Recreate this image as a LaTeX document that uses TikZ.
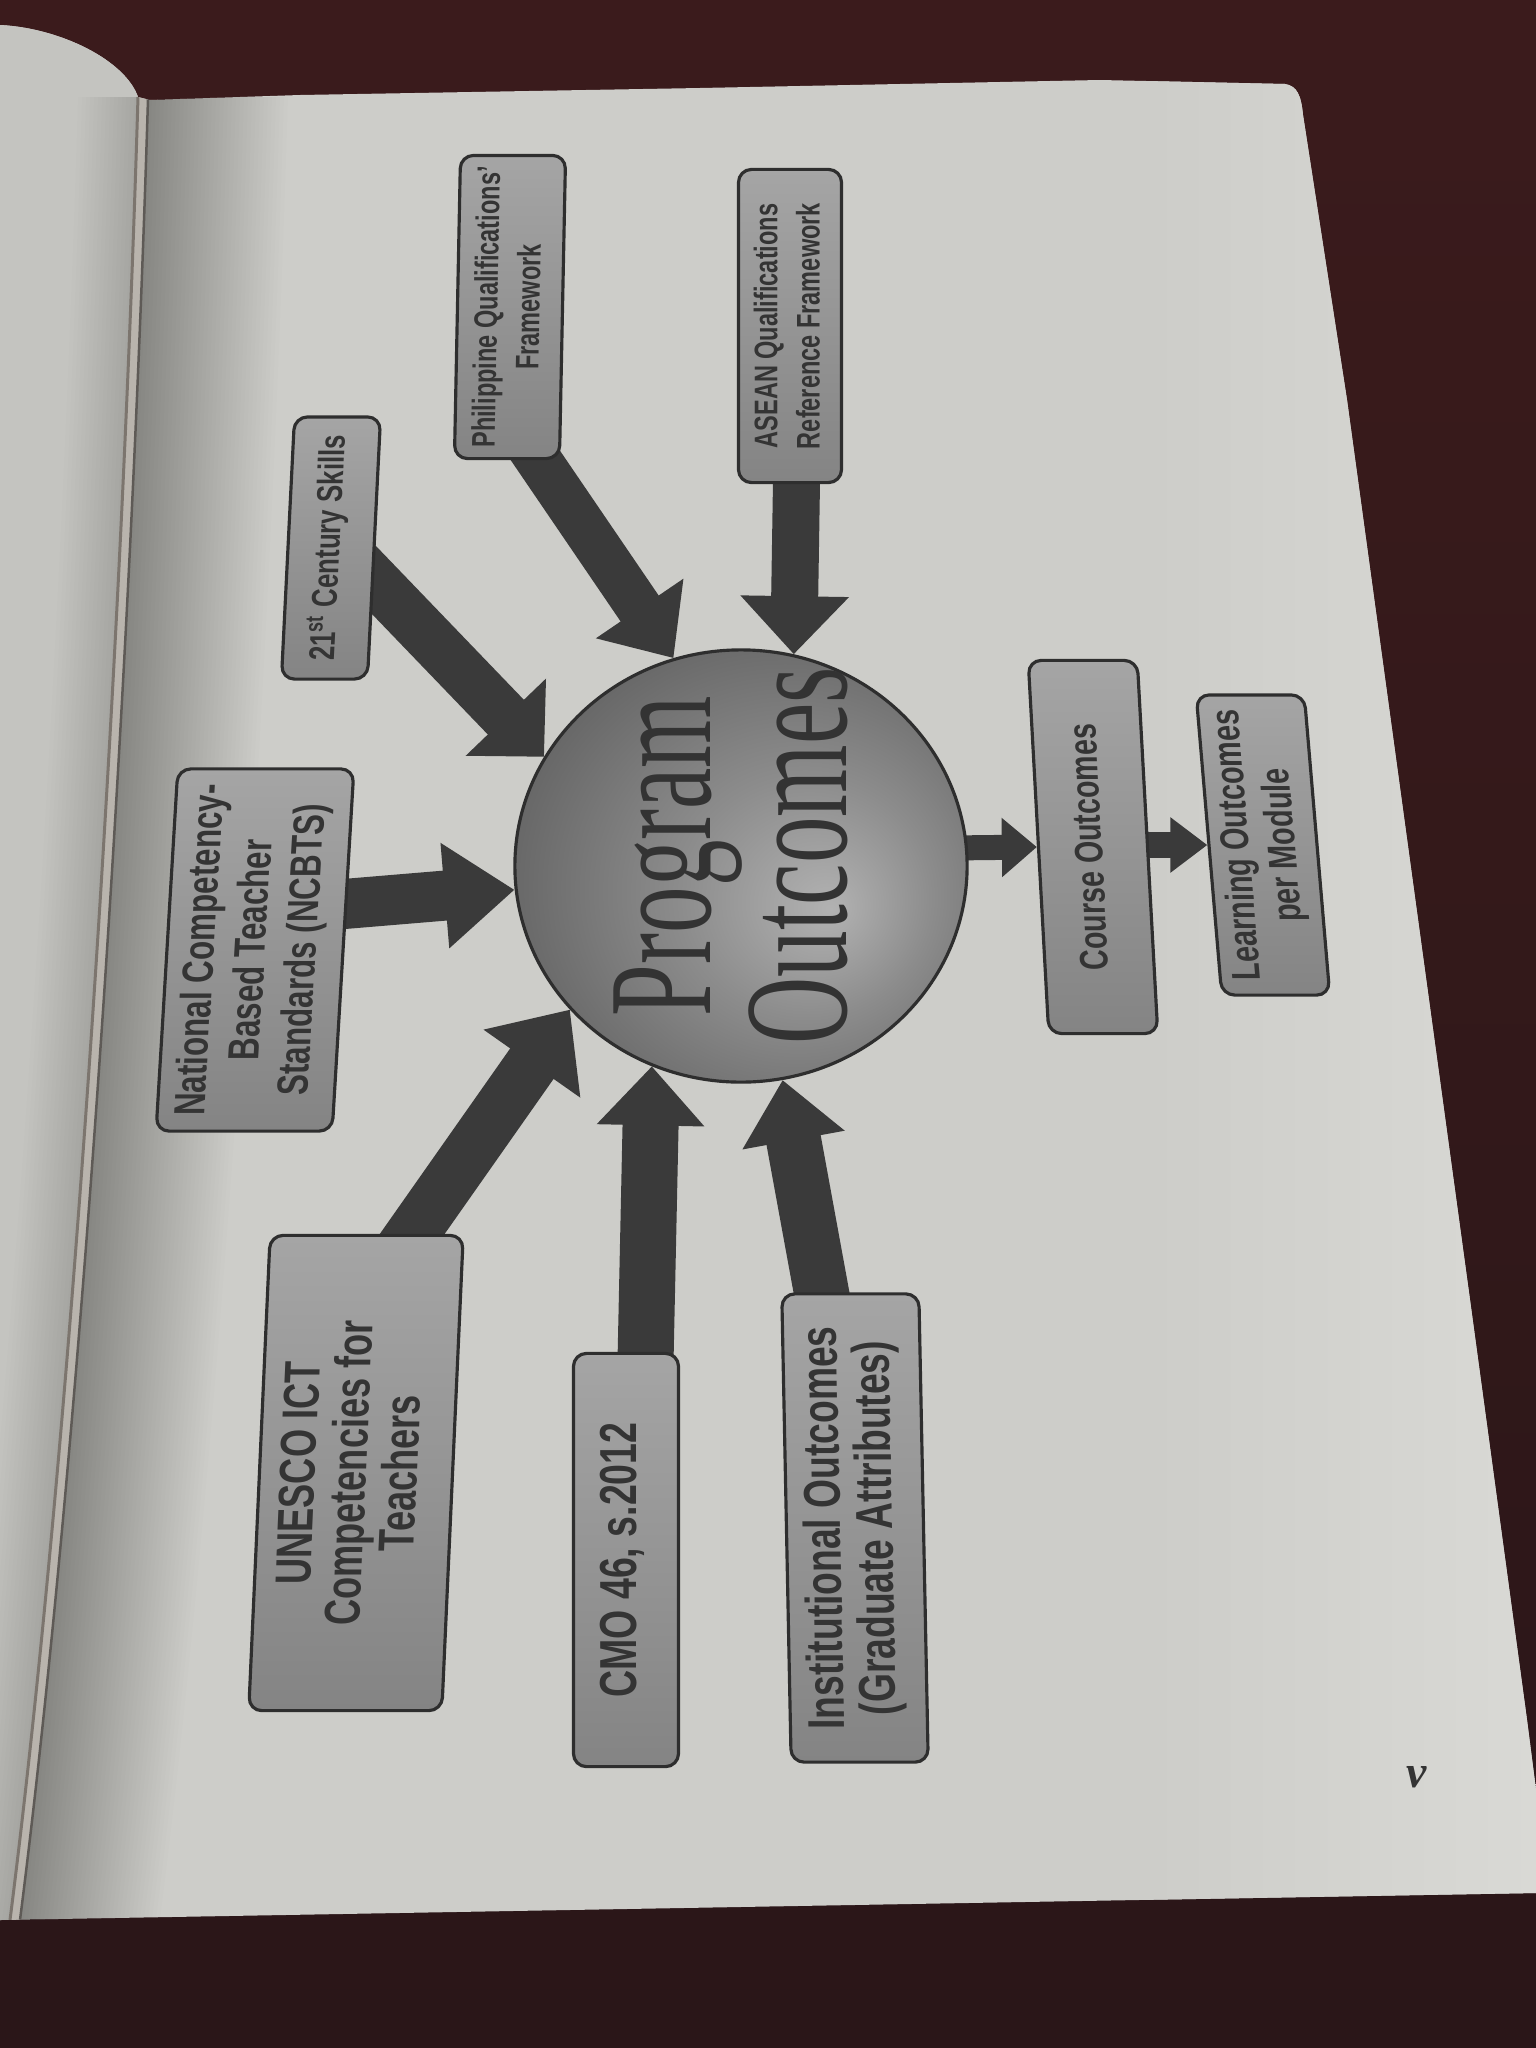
\documentclass[tikz,border=0pt]{standalone}
\usepackage{fontspec}
\usepackage{graphicx}
\usetikzlibrary{arrows.meta,shapes.geometric,calc}
\newfontfamily\boxfont[FakeStretch=0.72]{Liberation Sans}
\newfontfamily\pofont[FakeStretch=0.63]{Liberation Serif}
\newfontfamily\pnfont{Liberation Serif}
\definecolor{bgtop}{HTML}{3B1B1C}
\definecolor{bgbot}{HTML}{2A1618}
\definecolor{paper}{HTML}{CDCDC9}
\definecolor{paperlight}{HTML}{D9D9D5}
\definecolor{leftpage}{HTML}{C4C4C0}
\definecolor{spinec}{HTML}{7C756E}
\definecolor{gutter}{HTML}{5E5A56}
\definecolor{gutterstrip}{HTML}{B9B4AD}
\definecolor{boxlight}{HTML}{A5A5A5}
\definecolor{boxdark}{HTML}{848484}
\definecolor{boxedge}{HTML}{2E2E2E}
\definecolor{boxtext}{HTML}{343434}
\definecolor{arrowc}{HTML}{3A3A3A}
\definecolor{potextc}{HTML}{333333}
\definecolor{ballA}{HTML}{B2B2B2}
\definecolor{ballB}{HTML}{8C8C8C}
\definecolor{ballC}{HTML}{626262}
\definecolor{ballD}{HTML}{4A4A4A}
\pgfdeclareradialshading{poball}{\pgfpoint{10bp}{-5bp}}{color(0bp)=(ballA); color(14bp)=(ballB); color(32bp)=(ballC); color(46bp)=(ballD); color(50bp)=(ballD)}
\pgfdeclarelayer{bg}
\pgfdeclarelayer{arr}
\pgfsetlayers{bg,arr,main}
\newcommand{\rottext}[1]{\rotatebox{90}{\begin{tabular}{@{}c@{}}#1\end{tabular}}}
\def\paperpath{(0,25) .. controls (60,28) and (125,60) .. (138,97) -- (150,100) -- (300,95) -- (700,88) -- (1100,80) -- (1285,84) .. controls (1297,86) and (1301,95) .. (1303,115) -- (1347,400) -- (1470,1300) -- (1527,1720) -- (1536,1790) -- (1536,1893) -- (0,1920) -- cycle}
\begin{document}
\begin{tikzpicture}[x=0.01cm,y=-0.01cm,
  obox/.style={draw=boxedge, line width=0.9pt, rounded corners=0.13cm, top color=boxlight, bottom color=boxdark, inner sep=0pt, text=boxtext},
  fs/.style 2 args={font=\boxfont\bfseries\fontsize{#1}{#2}\selectfont},
  barrow/.style n args={3}{draw=arrowc, line width=#1, line cap=butt, -{Triangle[length=#3 0 0, width=#2 0 0]}}
]
\useasboundingbox (0,0) rectangle (1536,2048);

\begin{pgfonlayer}{bg}
  \shade[top color=bgtop, bottom color=bgbot] (0,0) rectangle (1536,2048);
  \fill[paper] \paperpath;
  \begin{scope}
    \clip \paperpath;
    \shade[left color=paper, right color=paperlight] (1150,0) rectangle (1536,2048);
    % left page
    \fill[leftpage] (0,0) -- (138,0) -- (138,97) .. controls (120,700) and (70,1450) .. (10,1920) -- (0,1920) -- cycle;
    \foreach \w in {4,8,...,60}
      \fill[black, opacity=0.008] (138,97) .. controls (120,700) and (70,1450) .. (10,1920) -- (10-\w,1920) .. controls (70-\w,1450) and (120-\w,700) .. (138-\w,97) -- cycle;
    % shadow on right page near gutter
    \foreach \w in {4,8,...,140}
      \fill[black, opacity=0.0065] (148,97) .. controls (130,700) and (80,1450) .. (20,1920) -- (20+\w,1920) .. controls (80+\w,1450) and (130+\w,700) .. (148+\w,97) -- cycle;
    \fill[gutterstrip] (138,97) .. controls (120,700) and (70,1450) .. (10,1920) -- (20,1920) .. controls (80,1450) and (130,700) .. (148,97) -- cycle;
    \draw[spinec, line width=0.03cm] (138,97) .. controls (120,700) and (70,1450) .. (10,1920);
    \draw[gutter, line width=0.025cm] (148,99) .. controls (130,700) and (80,1450) .. (20,1920);
  \end{scope}
\end{pgfonlayer}

% central circle
\node[ellipse, minimum width=4.52cm, minimum height=4.32cm, inner sep=0pt, shading=poball, draw=boxedge, line width=0.9pt] (po) at (741,866) {};
\node[text=potextc, inner sep=0pt, font=\pofont\fontsize{42}{36}\selectfont] (potext) at (749,856) {\rottext{Program\\Outcomes}};

% boxes
\node[obox, fs={9.3}{12}, xslant=0.02, minimum width=1.05cm, minimum height=3.03cm] (pqf) at (510,307) {\rottext{Philippine Qualifications’\\Framework}};
\node[obox, fs={9.3}{12}, minimum width=1.03cm, minimum height=3.13cm] (asean) at (790,326) {\rottext{ASEAN Qualifications\\Reference Framework}};
\node[obox, fs={10.2}{12}, xslant=0.05, minimum width=0.86cm, minimum height=2.62cm] (cent) at (331,548) {\rottext{21\textsuperscript{st} Century Skills}};
\node[obox, fs={12.4}{14.5}, xslant=0.06, minimum width=1.76cm, minimum height=3.62cm] (ncbts) at (255,950) {\rottext{National Competency-\\Based Teacher\\Standards (NCBTS)}};
\node[obox, fs={11.3}{13}, xslant=-0.055, minimum width=1.09cm, minimum height=3.73cm] (course) at (1093,847) {\rottext{Course Outcomes}};
\node[obox, fs={11.4}{13}, xslant=-0.085, minimum width=1.08cm, minimum height=3.0cm] (learn) at (1263,845) {\rottext{Learning Outcomes\\per Module}};
\node[obox, fs={14.3}{13.8}, xslant=0.045, minimum width=1.93cm, minimum height=4.75cm] (unesco) at (356,1473) {\rottext{UNESCO ICT\\Competencies for\\Teachers}};
\node[obox, fs={14.8}{14}, minimum width=1.05cm, minimum height=4.13cm] (cmo) at (626,1560) {\rottext{CMO 46, s.2012}};
\node[obox, fs={14.7}{13.8}, xslant=-0.02, minimum width=1.37cm, minimum height=4.68cm] (inst) at (855,1528) {\rottext{Institutional Outcomes\\(Graduate Attributes)}};

% page number
\node[text=potextc, inner sep=0pt, font=\pnfont\bfseries\itshape\fontsize{13}{13}\selectfont] (pnum) at (1417,1777) {v};

% arrow tails
\coordinate (t1) at (516,427);
\coordinate (t2) at (797,450);
\coordinate (t3) at (348,553);
\coordinate (t4) at (320,906);
\coordinate (t5) at (389,1267);
\coordinate (t6) at (645,1385);
\coordinate (t7) at (828,1328);
\coordinate (t8) at (950,848);
\coordinate (t9) at (1135,845);

\begin{pgfonlayer}{arr}
  \draw[barrow={0.46cm}{1.02cm}{0.60cm}] (t1) -- (po.108);
  \draw[barrow={0.47cm}{1.05cm}{0.58cm}] (t2) -- (po.76.5);
  \draw[barrow={0.50cm}{1.08cm}{0.55cm}] (t3) -- (po.151.8);
  \draw[barrow={0.50cm}{1.01cm}{0.70cm}] (t4) -- (po.186);
  \draw[barrow={0.53cm}{1.14cm}{0.66cm}] (t5) -- (po.220.5);
  \draw[barrow={0.56cm}{1.04cm}{0.59cm}] (t6) -- (po.246);
  \draw[barrow={0.55cm}{1.00cm}{0.61cm}] (t7) -- (po.281.5);
  \draw[barrow={0.25cm}{0.57cm}{0.35cm}] (t8) -- (course.west);
  \draw[barrow={0.26cm}{0.53cm}{0.37cm}] (t9) -- (learn.west);
\end{pgfonlayer}
\end{tikzpicture}
\end{document}
